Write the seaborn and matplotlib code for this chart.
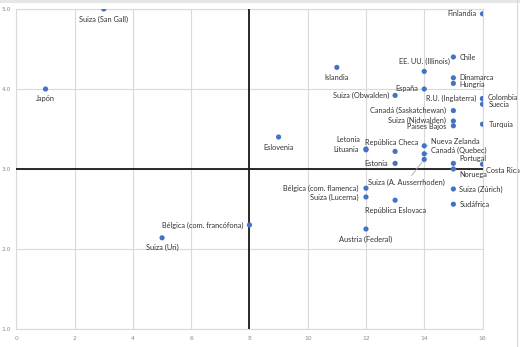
import matplotlib
matplotlib.use("Agg")
import matplotlib.pyplot as plt
import seaborn as sns
import pandas as pd
from matplotlib.lines import Line2D

# ---------------- data ----------------
paises = [
    "Japón", "Suiza (San Gall)", "Islandia", "Finlandia", "Chile",
    "EE. UU. (Illinois)", "Dinamarca", "Hungria", "España", "Suiza (Obwalden)",
    "R.U. (Inglaterra)", "Colombia", "Suecia", "Canadá (Saskatchewan)",
    "Suiza (Nidwalden)", "Paises Bajos", "Turquia", "Eslovenia", "Letonia",
    "Lituania", "República Checa", "Estonia", "Nueva Zelanda", "Canadá (Quebec)",
    "Suiza (A. Ausserrhoden)", "Portugal", "Costa Rica", "Noruega",
    "Suiza (Zúrich)", "Sudáfrica", "Bélgica (com. flamenca)", "Suiza (Lucerna)",
    "República Eslovaca", "Austria (Federal)", "Bélgica (com. francófona)",
    "Suiza (Uri)",
]
valores_x = [
    1, 3, 11, 16, 15,
    14, 15, 15, 14, 13,
    16, 16, 16, 15,
    15, 15, 16, 9, 12,
    12, 13, 13, 14, 14,
    14, 15, 16, 15,
    15, 15, 12, 12,
    13, 12, 8,
    5,
]
valores_y = [
    4.00, 5.00, 4.27, 4.94, 4.40,
    4.22, 4.14, 4.07, 4.00, 3.92,
    3.88, 3.88, 3.81, 3.73,
    3.60, 3.54, 3.56, 3.40, 3.25,
    3.24, 3.22, 3.07, 3.29, 3.19,
    3.12, 3.07, 3.06, 3.00,
    2.75, 2.56, 2.76, 2.65,
    2.61, 2.25, 2.30,
    2.14,
]
x_ticks = [0, 2, 4, 6, 8, 10, 12, 14, 16]
y_ticks = [1.0, 2.0, 3.0, 4.0, 5.0]

# ---------------- label placement (pixel offsets, alignment, leader) ----------------
placement = {
    "Japón": (0, -10, "center", False),
    "Suiza (San Gall)": (0, -10, "center", False),
    "Islandia": (0, -10, "center", False),
    "Finlandia": (-6, 0, "right", False),
    "Chile": (6, 0, "left", False),
    "EE. UU. (Illinois)": (0, 10, "center", False),
    "Dinamarca": (6, 0, "left", False),
    "Hungria": (6, -1, "left", False),
    "España": (-6, 0, "right", False),
    "Suiza (Obwalden)": (-6, 0, "right", False),
    "R.U. (Inglaterra)": (-6, 0, "right", False),
    "Colombia": (5, 1, "left", False),
    "Suecia": (6, 0, "left", False),
    "Canadá (Saskatchewan)": (-7, 0, "right", False),
    "Suiza (Nidwalden)": (-7, 1, "right", False),
    "Paises Bajos": (-7, -1, "right", False),
    "Turquia": (6, 0, "left", False),
    "Eslovenia": (0, -10, "center", False),
    "Letonia": (-6, 9, "right", False),
    "Lituania": (-7, 0, "right", False),
    "República Checa": (-3, 9, "center", False),
    "Estonia": (-7, 0, "right", False),
    "Nueva Zelanda": (7, 4, "left", True),
    "Canadá (Quebec)": (7, 3, "left", True),
    "Suiza (A. Ausserrhoden)": (-18, -23, "center", True),
    "Portugal": (6, 5, "left", True),
    "Costa Rica": (3, -6, "left", False),
    "Noruega": (6, -6, "left", True),
    "Suiza (Zúrich)": (6, 0, "left", False),
    "Sudáfrica": (6, 0, "left", False),
    "Bélgica (com. flamenca)": (-7, 0, "right", False),
    "Suiza (Lucerna)": (-7, 0, "right", False),
    "República Eslovaca": (0, -10, "center", False),
    "Austria (Federal)": (0, -10, "center", False),
    "Bélgica (com. francófona)": (-6, 0, "right", False),
    "Suiza (Uri)": (0, -10, "center", False),
}

df = pd.DataFrame({"pais": paises, "x": valores_x, "y": valores_y})

sns.set_style("white")
plt.rcParams["font.family"] = ["Lato", "DejaVu Sans"]

W, H = 520, 347
fig = plt.figure(figsize=(W / 100, H / 100), dpi=100)
left, right, top, bottom = 16.4, 482.5, 9, 329
ax = fig.add_axes([left / W, 1 - bottom / H, (right - left) / W, (bottom - top) / H])

sns.scatterplot(data=df, x="x", y="y", ax=ax, color="#4472C4", s=14,
                edgecolor="none", linewidth=0, zorder=5, legend=False)

ax.set_xlim(0, 16)
ax.set_ylim(1, 5)
ax.set_xticks(x_ticks)
ax.set_yticks(y_ticks)
ax.set_xticklabels([str(t) for t in x_ticks], family="DejaVu Sans")
ax.set_yticklabels([f"{t:.1f}" for t in y_ticks], family="DejaVu Sans")
ax.tick_params(axis="both", length=0, labelsize=4.3, labelcolor="#8c8c8c")
ax.tick_params(axis="x", pad=5)
ax.tick_params(axis="y", pad=4)
ax.set_xlabel("")
ax.set_ylabel("")

ax.grid(True, color="#d9d9d9", lw=0.8, zorder=0)
for sp in ax.spines.values():
    sp.set_color("#d9d9d9")
    sp.set_linewidth(0.8)

ax.axhline(3, color="#1a1a1a", lw=1.3, zorder=3)
ax.axvline(8, color="#1a1a1a", lw=1.3, zorder=3)

for p, xv, yv in zip(df["pais"], df["x"], df["y"]):
    dx, dy, ha, leader = placement[p]
    kw = {}
    if leader:
        kw["arrowprops"] = dict(arrowstyle="-", color="#a6a6a6", lw=0.6,
                                shrinkA=0, shrinkB=2)
    ax.annotate(p, (xv, yv), xytext=(dx, dy), textcoords="offset pixels",
                ha=ha, va="center", fontsize=5.3, color="#333333",
                zorder=6, annotation_clip=False, **kw)

# chart frame remnants (top band, right edge)
fig.add_artist(Line2D([0, 1], [1 - 1.2 / H, 1 - 1.2 / H], transform=fig.transFigure,
                      color="#e6e6e6", lw=2.2))
fig.add_artist(Line2D([516.5 / W, 516.5 / W], [0, 1], transform=fig.transFigure,
                      color="#d9d9d9", lw=0.8))

fig.savefig("out.png", dpi=100, facecolor="white")
